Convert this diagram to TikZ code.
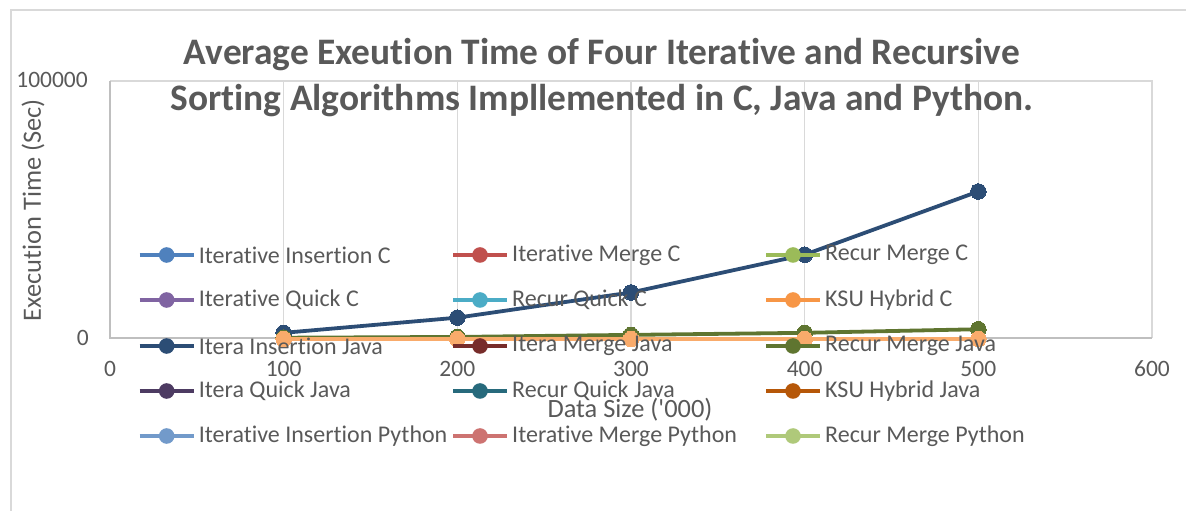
\documentclass[tikz,border=0pt]{standalone}
\usepackage{fontspec}
\setmainfont{Carlito}[Ligatures={TeX,NoCommon}]

\definecolor{txtgrey}{HTML}{595959}
\definecolor{gridgrey}{HTML}{D9D9D9}
\definecolor{axisgrey}{HTML}{BFBFBF}
% series colours
\definecolor{iinsc}{HTML}{4F81BD}
\definecolor{imrgc}{HTML}{C0504D}
\definecolor{rmrgc}{HTML}{9BBB59}
\definecolor{iqckc}{HTML}{8064A2}
\definecolor{rqckc}{HTML}{4BACC6}
\definecolor{ksuc}{HTML}{F79646}
\definecolor{iinsj}{HTML}{2C4D75}
\definecolor{imrgj}{HTML}{772C2A}
\definecolor{rmrgj}{HTML}{5F7530}
\definecolor{iqckj}{HTML}{4D3B62}
\definecolor{rqckj}{HTML}{276A7C}
\definecolor{ksuj}{HTML}{B65708}
\definecolor{iinsp}{HTML}{729ACA}
\definecolor{imrgp}{HTML}{CD7371}
\definecolor{rmrgp}{HTML}{AFC97A}
\definecolor{ksup}{HTML}{F9AB6B}

\begin{document}
\begin{tikzpicture}[x=1pt,y=1pt,
  lbl/.style={text=txtgrey,font=\fontsize{23.5}{28}\selectfont,inner sep=0pt},
  keytext/.style={text=txtgrey,font=\fontsize{24}{28}\selectfont,inner sep=0pt},
  series/.style={line width=3.8pt,#1,mark=*,mark size=7.8pt,mark options={fill=#1,draw=#1,line width=0pt}},
  keyline/.style={line width=3.8pt,#1}]
  \useasboundingbox (0,0) rectangle (1186,511);
  \draw[gridgrey,line width=1.5pt] (11,0) -- (11,501) -- (1186,501);

  % plot area and grid
  \foreach \x in {1,...,5}
    \draw[gridgrey,line width=1.5pt] ({110+\x*173.67},173) -- ({110+\x*173.67},430);
  \draw[gridgrey,line width=1.5pt] (110,430) -- (1152,430) -- (1152,173);
  \draw[axisgrey,line width=1.5pt] (110,430) -- (110,173) -- (1152,173);

  \node[font=\bfseries\fontsize{37.4}{44}\selectfont,text=txtgrey,anchor=base] (title1) at (602,446) {Average Exeution Time of Four Iterative and Recursive};
  \node[font=\bfseries\fontsize{37.4}{44}\selectfont,text=txtgrey,anchor=base] (title2) at (602,400) {Sorting Algorithms Impllemented in C, Java and Python.};

  % tick labels
  \foreach \x [count=\i] in {0,100,...,600}
    \node[lbl] (xt\i) at ({110+\x*1.7367},142) {\x};
  \node[lbl,anchor=east] (ytop) at (88,431) {100000};
  \node[lbl,anchor=east] (ybot) at (89,173) {0};

  \node[lbl,font=\fontsize{26.4}{30}\selectfont,anchor=base] (xtitle) at (630,93) {Data Size (\textquotesingle000)};
  \node[lbl,font=\fontsize{26.4}{30}\selectfont,rotate=90] (ytitle) at (33,301) {Execution Time (Sec)};

  % data, in thousands of seconds
  \begin{scope}[shift={(110,172)},x=1.7367pt,y=2.57pt]
    \draw[series=iinsj] plot coordinates {(100,2.4) (200,8.3) (300,18.1) (400,32.8) (500,57.4)};
    \draw[series=rmrgj] plot coordinates {(100,0.5) (200,0.8) (300,1.6) (400,2.4) (500,3.8)};
    \draw[series=ksup] plot coordinates {(100,0) (200,0) (300,0) (400,0) (500,0)};
  \end{scope}

  % legend
  \foreach \lab/\col/\cx/\ry [count=\n] in {
      Iterative Insertion C/iinsc/166.7/256, Iterative Merge C/imrgc/480/256, Recur Merge C/rmrgc/793/256,
      Iterative Quick C/iqckc/166.7/211, Recur Quick C/rqckc/480/211, KSU Hybrid C/ksuc/793/211,
      Itera Insertion Java/iinsj/166.7/165, Itera Merge Java/imrgj/480/165, Recur Merge Java/rmrgj/793/165,
      Itera Quick Java/iqckj/166.7/120, Recur Quick Java/rqckj/480/120, KSU Hybrid Java/ksuj/793/120,
      Iterative Insertion Python/iinsp/166.7/75, Iterative Merge Python/imrgp/480/75, Recur Merge Python/rmrgp/793/75} {
    \draw[keyline=\col] ({\cx-27},\ry) -- ({\cx+27},\ry);
    \fill[\col] (\cx,\ry) circle (7.8);
    \node[keytext,anchor=west] (key\n) at ({\cx+32},\ry) {\lab};
  }
\end{tikzpicture}
\end{document}
